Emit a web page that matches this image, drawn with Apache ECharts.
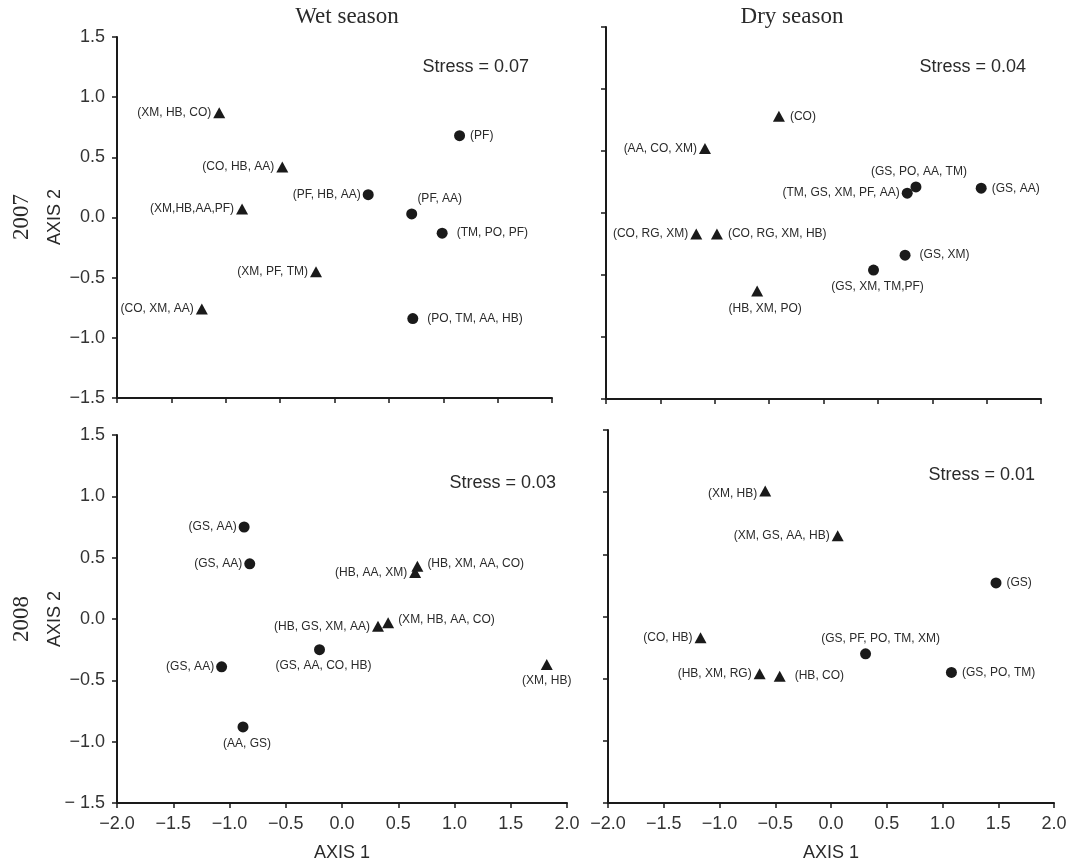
<!DOCTYPE html>
<html>
<head>
<meta charset="utf-8">
<script src="https://cdn.jsdelivr.net/npm/echarts@6/dist/echarts.min.js"></script>
<style>
  html, body { margin: 0; padding: 0; background: #ffffff; }
  #chart { width: 1071px; height: 863px; }
</style>
</head>
<body>
<div id="chart"></div>
<script>
// NMDS ordination of the sampled sites, wet and dry season, 2007 and 2008.
// Triangles and circles mark the two site groups; labels list the taxa.

const xTickLabels = ['−2.0', '−1.5', '−1.0', '−0.5', '0.0', '0.5', '1.0', '1.5', '2.0'];
const yTickLabels2007 = ['−1.5', '−1.0', '−0.5', '0.0', '0.5', '1.0', '1.5'];
const yTickLabels2008 = ['− 1.5', '−1.0', '−0.5', '0.0', '0.5', '1.0', '1.5'];

const columnTitles = ['Wet season', 'Dry season'];
const rowTitles = ['2007', '2008'];
const stressValues = ['0.07', '0.04', '0.03', '0.01'];

// Wet season 2007
const wet2007Labels = ['(XM, HB, CO)', '(CO, HB, AA)', '(XM,HB,AA,PF)', '(XM, PF, TM)', '(CO, XM, AA)',
                       '(PF)', '(PF, HB, AA)', '(PF, AA)', '(TM, PO, PF)', '(PO, TM, AA, HB)'];
const wet2007Axis1 = [-1.06, -0.48, -0.85, -0.17, -1.22, 1.15, 0.31, 0.71, 0.99, 0.72];
const wet2007Axis2 = [0.87, 0.42, 0.07, -0.45, -0.76, 0.68, 0.19, 0.03, -0.13, -0.84];
const wet2007Group = ['triangle', 'triangle', 'triangle', 'triangle', 'triangle',
                      'circle', 'circle', 'circle', 'circle', 'circle'];

// Dry season 2007
const dry2007Labels = ['(CO)', '(AA, CO, XM)', '(CO, RG, XM)', '(CO, RG, XM, HB)', '(HB, XM, PO)',
                       '(GS, PO, AA, TM)', '(TM, GS, XM, PF, AA)', '(GS, AA)', '(GS, XM)', '(GS, XM, TM,PF)'];
const dry2007Axis1 = [-0.41, -1.09, -1.17, -0.98, -0.61, 0.85, 0.77, 1.45, 0.75, 0.46];
const dry2007Axis2 = [0.78, 0.52, -0.17, -0.17, -0.63, 0.21, 0.16, 0.20, -0.34, -0.46];
const dry2007Group = ['triangle', 'triangle', 'triangle', 'triangle', 'triangle',
                      'circle', 'circle', 'circle', 'circle', 'circle'];

// Wet season 2008
const wet2008Labels = ['(GS, AA)', '(GS, AA)', '(GS, AA)', '(AA, GS)', '(GS, AA, CO, HB)',
                       '(HB, AA, XM)', '(HB, XM, AA, CO)', '(HB, GS, XM, AA)', '(XM, HB, AA, CO)', '(XM, HB)'];
const wet2008Axis1 = [-0.87, -0.82, -1.07, -0.88, -0.20, 0.65, 0.67, 0.32, 0.41, 1.82];
const wet2008Axis2 = [0.75, 0.45, -0.39, -0.88, -0.25, 0.38, 0.43, -0.06, -0.03, -0.37];
const wet2008Group = ['circle', 'circle', 'circle', 'circle', 'circle',
                      'triangle', 'triangle', 'triangle', 'triangle', 'triangle'];

// Dry season 2008
const dry2008Labels = ['(XM, HB)', '(XM, GS, AA, HB)', '(GS)', '(CO, HB)', '(GS, PF, PO, TM, XM)',
                       '(HB, XM, RG)', '(HB, CO)', '(GS, PO, TM)'];
const dry2008Axis1 = [-0.59, 0.06, 1.48, -1.17, 0.31, -0.64, -0.46, 1.08];
const dry2008Axis2 = [1.01, 0.65, 0.27, -0.17, -0.30, -0.46, -0.48, -0.45];
const dry2008Group = ['triangle', 'triangle', 'circle', 'triangle', 'circle', 'triangle', 'triangle', 'circle'];

// Where each point's label sits relative to its marker
const wet2007Place = ['L', 'L', 'L', 'L', 'L', 'R', 'L', 'TR', 'R2', 'R2'];
const dry2007Place = ['R', 'L', 'L', 'R', 'B8', 'T', 'L', 'R', 'R2', 'B'];
const wet2008Place = ['L', 'L', 'L', 'B', 'B', 'L', 'RU', 'L', 'RU', 'B0'];
const dry2008Place = ['LD', 'L', 'R', 'L', 'TR2', 'L', 'R2', 'R'];

const placements = {
  L:   { position: 'left', distance: 2 },
  LD:  { position: 'left', distance: 2, offset: [0, 3] },
  R:   { position: 'right', distance: 5 },
  RU:  { position: 'right', distance: 4, offset: [0, -3] },
  R2:  { position: 'right', distance: 9 },
  B:   { position: 'bottom', distance: 5, offset: [4, 0] },
  B8:  { position: 'bottom', distance: 6, offset: [8, 0] },
  B0:  { position: 'bottom', distance: 5, offset: [0, 0] },
  T:   { position: 'top', distance: 4, offset: [3, 0] },
  TR:  { position: 'top', distance: 4, offset: [28, 0] },
  TR2: { position: 'top', distance: 4, offset: [15, 0] }
};

const panels = [
  { labels: wet2007Labels, ax1: wet2007Axis1, ax2: wet2007Axis2, group: wet2007Group, place: wet2007Place,
    grid: { left: 117, top: 37, width: 435, height: 361 }, showX: false, showY: true, yTicks: yTickLabels2007 },
  { labels: dry2007Labels, ax1: dry2007Axis1, ax2: dry2007Axis2, group: dry2007Group, place: dry2007Place,
    grid: { left: 606, top: 27, width: 435, height: 372 }, showX: false, showY: false, yTicks: yTickLabels2007 },
  { labels: wet2008Labels, ax1: wet2008Axis1, ax2: wet2008Axis2, group: wet2008Group, place: wet2008Place,
    grid: { left: 117, top: 435, width: 450, height: 368 }, showX: true, showY: true, yTicks: yTickLabels2008 },
  { labels: dry2008Labels, ax1: dry2008Axis1, ax2: dry2008Axis2, group: dry2008Group, place: dry2008Place,
    grid: { left: 608, top: 430, width: 446, height: 373 }, showX: true, showY: false, yTicks: yTickLabels2008 }
];

const INK = '#1a1a1a';
const TEXT = '#2a2a2a';
const SANS = '"Liberation Sans", Arial, sans-serif';
const SERIF = '"Liberation Serif", "Times New Roman", serif';

const axisLine = { show: true, onZero: false, lineStyle: { color: INK, width: 2 } };
const axisTick = { show: true, inside: false, length: 5, lineStyle: { color: INK, width: 1.5 } };

const grids = [], xAxes = [], yAxes = [], series = [];

panels.forEach((p, i) => {
  grids.push(Object.assign({ containLabel: false }, p.grid));
  xAxes.push({
    type: 'value', gridIndex: i, min: -2, max: 2, interval: 0.5,
    axisLine, axisTick, splitLine: { show: false },
    axisLabel: {
      show: p.showX, margin: 12, fontSize: 18, fontFamily: SANS, color: '#333',
      formatter: v => xTickLabels[Math.round((v + 2) / 0.5)]
    }
  });
  yAxes.push({
    type: 'value', gridIndex: i, min: -1.5, max: 1.5, interval: 0.5,
    axisLine, axisTick, splitLine: { show: false },
    axisLabel: {
      show: p.showY, margin: 12, fontSize: 18, fontFamily: SANS, color: '#333',
      formatter: v => p.yTicks[Math.round((v + 1.5) / 0.5)]
    }
  });

  ['triangle', 'circle'].forEach(shape => {
    const data = [];
    p.labels.forEach((name, k) => {
      if (p.group[k] !== shape) return;
      const pl = placements[p.place[k]];
      data.push({
        name,
        value: [p.ax1[k], p.ax2[k]],
        label: Object.assign({ show: true, formatter: name }, pl)
      });
    });
    series.push({
      type: 'scatter', xAxisIndex: i, yAxisIndex: i,
      symbol: shape,
      symbolSize: shape === 'circle' ? 11 : [12, 11],
      itemStyle: { color: INK, opacity: 1 },
      label: { fontSize: 12, fontFamily: SANS, color: TEXT },
      emphasis: { disabled: true },
      data
    });
  });
});

function txt(text, x, y, font, rotation, align) {
  return {
    type: 'text', x, y, rotation: rotation || 0, silent: true,
    style: {
      text, font, fill: TEXT,
      align: align || 'center', verticalAlign: 'middle',
      textAlign: align || 'center', textVerticalAlign: 'middle'
    }
  };
}

const graphics = [
  txt(columnTitles[0], 347, 17, '23px ' + SERIF),
  txt(columnTitles[1], 792, 17, '23px ' + SERIF),
  txt(rowTitles[0], 22, 217, '23px ' + SERIF, Math.PI / 2),
  txt(rowTitles[1], 22, 619, '23px ' + SERIF, Math.PI / 2),
  txt('AXIS 2', 55, 217, '18px ' + SANS, Math.PI / 2),
  txt('AXIS 2', 55, 619, '18px ' + SANS, Math.PI / 2),
  txt('AXIS 1', 342, 853, '18px ' + SANS),
  txt('AXIS 1', 831, 853, '18px ' + SANS),
  txt('Stress = ' + stressValues[0], 529, 67, '18px ' + SANS, 0, 'right'),
  txt('Stress = ' + stressValues[1], 1026, 67, '18px ' + SANS, 0, 'right'),
  txt('Stress = ' + stressValues[2], 556, 483, '18px ' + SANS, 0, 'right'),
  txt('Stress = ' + stressValues[3], 1035, 475, '18px ' + SANS, 0, 'right')
];

const chart = echarts.init(document.getElementById('chart'), null, { renderer: 'canvas' });
chart.setOption({
  backgroundColor: '#ffffff',
  animation: false,
  grid: grids,
  xAxis: xAxes,
  yAxis: yAxes,
  series,
  graphic: graphics
});
</script>
</body>
</html>
